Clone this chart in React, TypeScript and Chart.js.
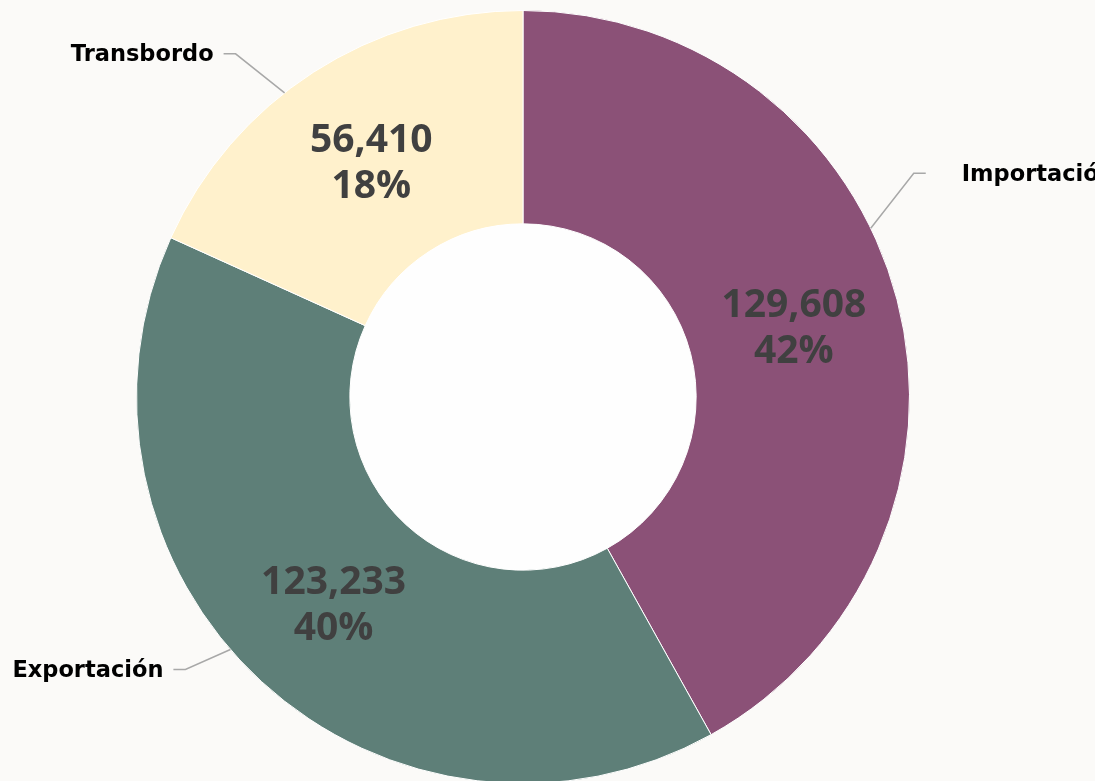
import React, { useEffect, useRef } from "react";
import { Chart, registerables } from "chart.js";

Chart.register(...registerables);

const categories = ["Importación", "Exportación", "Transbordo"];
const values = [129608, 123233, 56410];
const colors = ["#8b5177", "#5e7f78", "#fff1cc"];

const W = 1095;
const H = 800;

const sliceLabels = {
  id: "sliceLabels",
  beforeDatasetsDraw(chart: any) {
    const meta = chart.getDatasetMeta(0);
    const arc = meta.data[0];
    if (!arc) return;
    const p = arc.getProps(["x", "y", "innerRadius"], true);
    const ctx = chart.ctx;
    ctx.save();
    ctx.fillStyle = "#fefefe";
    ctx.beginPath();
    ctx.arc(p.x, p.y, p.innerRadius, 0, Math.PI * 2);
    ctx.fill();
    ctx.restore();
  },
  afterDatasetsDraw(chart: any, _args: any, opts: any) {
    const ctx = chart.ctx;
    const meta = chart.getDatasetMeta(0);
    const data = chart.data.datasets[0].data as number[];
    const labels = chart.data.labels as string[];
    const total = data.reduce((a, b) => a + b, 0);
    meta.data.forEach((arc: any, i: number) => {
      const p = arc.getProps(["x", "y", "startAngle", "endAngle", "outerRadius", "innerRadius"], true);
      const mid = (p.startAngle + p.endAngle) / 2;
      const rm = (p.outerRadius + p.innerRadius) / 2;
      const cx = p.x + Math.cos(mid) * rm;
      const cy = p.y + Math.sin(mid) * rm;
      ctx.save();
      ctx.font = '700 39px "Open Sans"';
      ctx.fillStyle = "#404040";
      ctx.textAlign = "center";
      ctx.textBaseline = "middle";
      ctx.fillText(data[i].toLocaleString("en-US"), cx, cy - 20.5);
      ctx.fillText(Math.round((data[i] / total) * 100) + "%", cx, cy + 25.5);

      const L = opts.leaders[i];
      const a = p.startAngle + (p.endAngle - p.startAngle) * L.frac;
      const sx = p.x + Math.cos(a) * p.outerRadius;
      const sy = p.y + Math.sin(a) * p.outerRadius;
      const ex = sx + L.dx;
      const ey = sy + L.dy;
      const hx = ex + L.side * 12;
      ctx.strokeStyle = "#a8a8a8";
      ctx.lineWidth = 1.5;
      ctx.beginPath();
      ctx.moveTo(sx, sy);
      ctx.lineTo(ex, ey);
      ctx.lineTo(hx, ey);
      ctx.stroke();
      ctx.font = 'bold 22.5px "DejaVu Sans"';
      ctx.fillStyle = "#000000";
      ctx.textAlign = L.side > 0 ? "left" : "right";
      ctx.fillText(labels[i], hx + L.side * L.gap, ey + 1.5);
      ctx.restore();
    });
  },
};

export default function App() {
  const ref = useRef<HTMLCanvasElement | null>(null);
  useEffect(() => {
    if (!ref.current) return;
    const chart = new Chart(ref.current, {
      type: "doughnut",
      data: {
        labels: categories,
        datasets: [
          {
            data: values,
            backgroundColor: colors,
            borderColor: "#ffffff",
            borderWidth: 1,
          },
        ],
      },
      options: {
        responsive: false,
        animation: false,
        cutout: "44.8%",
        layout: { padding: { left: 136, right: W - 136 - 774, top: 10, bottom: H - 10 - 774 } },
        plugins: {
          legend: { display: false },
          tooltip: { enabled: false },
          sliceLabels: {
            leaders: [
              { frac: 0.425, dx: 43, dy: -55, side: 1, gap: 36 },
              { frac: 0.546, dx: -45, dy: 20, side: -1, gap: 10 },
              { frac: 0.42, dx: -49, dy: -39, side: -1, gap: 10 },
            ],
          },
        } as any,
      },
      plugins: [sliceLabels],
    });
    return () => chart.destroy();
  }, []);
  return (
    <div
      style={{
        position: "absolute",
        left: 0,
        top: 0,
        width: W,
        height: 781,
        overflow: "hidden",
        background: "#fbfaf8",
      }}
    >
      <canvas ref={ref} width={W} height={H} style={{ display: "block", width: W, height: H }} />
    </div>
  );
}
